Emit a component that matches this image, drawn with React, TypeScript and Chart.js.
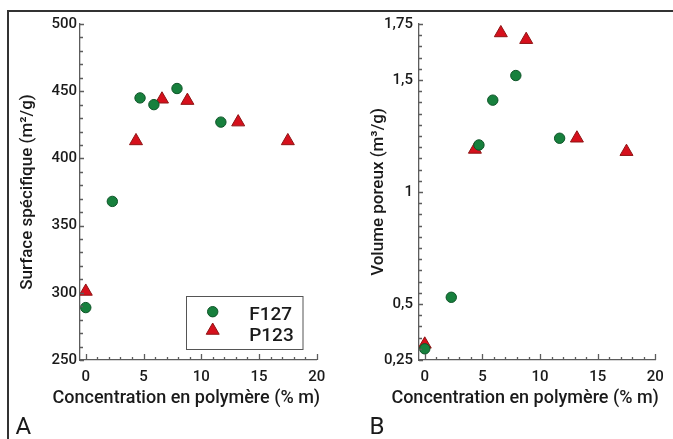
import React, { useEffect, useRef } from "react";
import { Chart, registerables } from "chart.js";
import { drawPoint } from "chart.js/helpers";

Chart.register(...registerables);

// ---------- data ----------
const xMajorTicks = [0, 5, 10, 15, 20];
const xMinorStep = 1;

const f127Concentration = [0, 2.3, 4.7, 5.9, 7.9, 11.7];
const f127Surface = [289, 368, 445, 440, 452, 427];
const f127Volume = [0.3, 0.53, 1.21, 1.41, 1.52, 1.24];

const p123Concentration = [0, 4.35, 6.6, 8.8, 13.2, 17.5];
const p123Surface = [301, 413, 444, 443, 427, 413];
const p123Volume = [0.32, 1.19, 1.71, 1.68, 1.24, 1.18];

const surfaceTicks = [250, 300, 350, 400, 450, 500];
const surfaceTickLabels = ["250", "300", "350", "400", "450", "500"];
const surfaceMinorStep = 10;

const volumeTicks = [0.25, 0.5, 1, 1.5, 1.75];
const volumeTickLabels = ["0,25", "0,5", "1", "1,5", "1,75"];
const volumeMinorStep = 0.05;

const seriesNames = ["F127", "P123"];

// ---------- styles ----------
const FONT = "Roboto, 'DejaVu Sans', sans-serif";
const TEXT = "#1a1a1a";
const AXIS = "#5c5c5c";
const GREEN = "#17803d";
const GREEN_EDGE = "#0e5428";
const RED = "#d6101c";
const RED_EDGE = "#8e1414";

type PanelCfg = {
  width: number;
  rightPad: number;
  yMin: number;
  yMax: number;
  yTicks: number[];
  yLabels: string[];
  yMinorStep: number;
  yTitle: string;
  yTitlePad: number;
  yLabelPad: number;
  fVals: number[];
  pVals: number[];
  legend: boolean;
};

function makeTickPlugin(cfg: PanelCfg) {
  return {
    id: "innerTicks",
    afterDatasetsDraw(chart: any) {
      const ctx = chart.ctx;
      const xs = chart.scales.x;
      const ys = chart.scales.y;
      const area = chart.chartArea;
      ctx.save();
      ctx.strokeStyle = AXIS;
      ctx.lineWidth = 1.3;
      ctx.beginPath();
      const xMax = xMajorTicks[xMajorTicks.length - 1];
      const nx = Math.round((xMax - xMajorTicks[0]) / xMinorStep);
      for (let i = 0; i <= nx; i++) {
        const v = xMajorTicks[0] + i * xMinorStep;
        const major = xMajorTicks.some((t) => Math.abs(t - v) < 1e-6);
        const px = Math.round(xs.getPixelForValue(v)) + 0.5;
        const len = major ? 6 : 3;
        ctx.moveTo(px, area.bottom);
        ctx.lineTo(px, area.bottom - len);
      }
      const ny = Math.round((cfg.yMax - cfg.yMin) / cfg.yMinorStep);
      for (let i = 0; i <= ny; i++) {
        const v = cfg.yMin + i * cfg.yMinorStep;
        const major = cfg.yTicks.some((t) => Math.abs(t - v) < 1e-6);
        const py = Math.round(ys.getPixelForValue(v)) + 0.5;
        const len = major ? 4 : 3;
        ctx.moveTo(area.left, py);
        ctx.lineTo(area.left + len, py);
      }
      ctx.stroke();
      ctx.restore();
    },
  };
}

function makeXTitlePlugin() {
  return {
    id: "xTitle",
    afterDraw(chart: any) {
      const ctx = chart.ctx;
      const area = chart.chartArea;
      ctx.save();
      ctx.font = `500 18px ${FONT}`;
      ctx.fillStyle = TEXT;
      ctx.textAlign = "center";
      ctx.textBaseline = "alphabetic";
      ctx.fillText(
        "Concentration en polymère (% m)",
        (area.left + area.right) / 2 - 12,
        area.bottom + 43
      );
      ctx.restore();
    },
  };
}

function makeLegendPlugin() {
  return {
    id: "boxLegend",
    afterDraw(chart: any) {
      const ctx = chart.ctx;
      const area = chart.chartArea;
      const bx = area.right - 131;
      const by = area.bottom - 64;
      const bw = 116.5;
      const bh = 53;
      ctx.save();
      ctx.fillStyle = "#ffffff";
      ctx.fillRect(bx, by, bw, bh);
      ctx.strokeStyle = "#555555";
      ctx.lineWidth = 1;
      ctx.strokeRect(Math.round(bx) + 0.5, Math.round(by) + 0.5, bw, bh);
      const ds = chart.data.datasets;
      const rows = [
        { y: by + 15.7, ty: by + 24 },
        { y: by + 34.5, ty: by + 45 },
      ];
      ds.forEach((d: any, i: number) => {
        ctx.fillStyle = d.backgroundColor;
        ctx.strokeStyle = d.borderColor;
        ctx.lineWidth = d.borderWidth;
        drawPoint(
          ctx,
          { pointStyle: d.pointStyle, radius: d.pointRadius, rotation: 0, borderWidth: d.borderWidth },
          bx + 27,
          rows[i].y
        );
        ctx.fillStyle = TEXT;
        ctx.font = `500 19px ${FONT}`;
        ctx.textAlign = "left";
        ctx.textBaseline = "alphabetic";
        ctx.fillText(d.label, bx + 63.5, rows[i].ty);
      });
      ctx.restore();
    },
  };
}

function Panel({ cfg }: { cfg: PanelCfg }) {
  const ref = useRef<HTMLCanvasElement | null>(null);
  useEffect(() => {
    if (!ref.current) return;
    const plugins: any[] = [makeTickPlugin(cfg), makeXTitlePlugin()];
    if (cfg.legend) plugins.push(makeLegendPlugin());
    const chart = new Chart(ref.current, {
      type: "scatter",
      data: {
        datasets: [
          {
            label: seriesNames[0],
            data: f127Concentration.map((x, i) => ({ x, y: cfg.fVals[i] })),
            pointStyle: "circle",
            pointRadius: 5.2,
            backgroundColor: GREEN,
            borderColor: GREEN_EDGE,
            borderWidth: 1,
          },
          {
            label: seriesNames[1],
            data: p123Concentration.map((x, i) => ({ x, y: cfg.pVals[i] })),
            pointStyle: "triangle",
            pointRadius: 7.5,
            backgroundColor: RED,
            borderColor: RED_EDGE,
            borderWidth: 1,
          },
        ],
      },
      options: {
        animation: false,
        responsive: false,
        devicePixelRatio: 1,
        layout: { padding: { left: 0, right: cfg.rightPad, top: 24, bottom: 0 } },
        plugins: { legend: { display: false }, tooltip: { enabled: false } },
        scales: {
          x: {
            type: "linear",
            min: -0.5,
            max: 20,
            afterBuildTicks: (s: any) => {
              s.ticks = xMajorTicks.map((v) => ({ value: v }));
            },
            afterFit: (s: any) => {
              s.height = 79;
            },
            grid: { display: false, drawTicks: false },
            border: { display: true, color: AXIS, width: 1.3 },
            ticks: {
              autoSkip: false,
              maxRotation: 0,
              padding: 8,
              color: TEXT,
              font: { family: FONT, size: 15, weight: "500" },
              callback: (v: any) => String(v),
            },
          },
          y: {
            type: "linear",
            min: cfg.yMin,
            max: cfg.yMax,
            afterBuildTicks: (s: any) => {
              s.ticks = cfg.yTicks.map((v) => ({ value: v }));
            },
            afterFit: (s: any) => {
              s.width = 80;
            },
            grid: { display: false, drawTicks: false },
            border: { display: true, color: AXIS, width: 1.3 },
            ticks: {
              autoSkip: false,
              padding: cfg.yLabelPad,
              color: TEXT,
              font: { family: FONT, size: 15, weight: "500" },
              callback: (v: any) => {
                const idx = cfg.yTicks.findIndex((t) => Math.abs(t - v) < 1e-6);
                return idx >= 0 ? cfg.yLabels[idx] : "";
              },
            },
            title: {
              display: true,
              text: cfg.yTitle,
              color: TEXT,
              font: { family: FONT, size: 17, weight: "500" },
              padding: { top: cfg.yTitlePad, bottom: 0 },
            },
          },
        },
      },
      plugins,
    });
    return () => chart.destroy();
  }, [cfg]);
  return <canvas ref={ref} width={cfg.width} height={439} style={{ display: "block" }} />;
}

const panelA: PanelCfg = {
  width: 339,
  rightPad: 22.3,
  yMin: 250,
  yMax: 500,
  yTicks: surfaceTicks,
  yLabels: surfaceTickLabels,
  yMinorStep: surfaceMinorStep,
  yTitle: "Surface spécifique (m²/g)",
  yTitlePad: 18,
  yLabelPad: 3,
  fVals: f127Surface,
  pVals: p123Surface,
  legend: true,
};

const panelB: PanelCfg = {
  width: 334,
  rightPad: 17.7,
  yMin: 0.25,
  yMax: 1.75,
  yTicks: volumeTicks,
  yLabels: volumeTickLabels,
  yMinorStep: volumeMinorStep,
  yTitle: "Volume poreux (m³/g)",
  yTitlePad: 30,
  yLabelPad: 6,
  fVals: f127Volume,
  pVals: p123Volume,
  legend: false,
};

export default function App() {
  const labelStyle: React.CSSProperties = {
    position: "absolute",
    top: 414,
    fontFamily: FONT,
    fontSize: 24,
    lineHeight: "24px",
    color: TEXT,
    fontWeight: 400,
  };
  return (
    <div style={{ position: "absolute", left: 0, top: 0, width: 673, height: 439, background: "#fff", overflow: "hidden" }}>
      <div style={{ position: "absolute", left: 0, top: 0 }}>
        <Panel cfg={panelA} />
      </div>
      <div style={{ position: "absolute", left: 339, top: 0 }}>
        <Panel cfg={panelB} />
      </div>
      <div
        style={{
          position: "absolute",
          left: 7,
          top: 10,
          width: 680,
          height: 450,
          borderTop: "2px solid #333",
          borderLeft: "2px solid #333",
          pointerEvents: "none",
        }}
      />
      <div style={{ ...labelStyle, left: 15.5 }}>A</div>
      <div style={{ ...labelStyle, left: 369.5 }}>B</div>
    </div>
  );
}
